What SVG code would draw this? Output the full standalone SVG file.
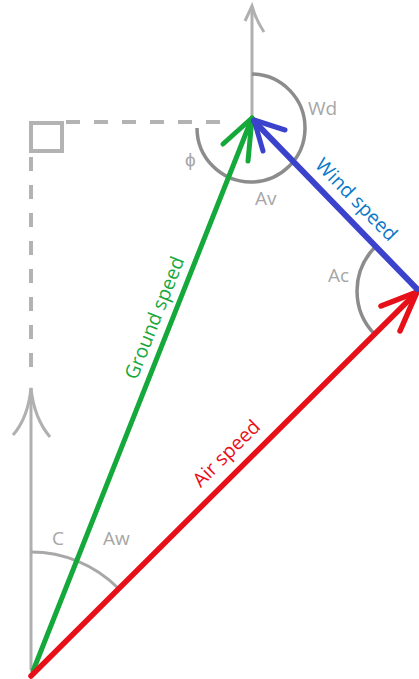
<svg xmlns="http://www.w3.org/2000/svg" width="419" height="679" viewBox="0 0 419 679">
<style>
.lbl{font-family:"Open Sans","Liberation Sans",sans-serif;font-size:19px;fill:#a6a6a6}
.vec{font-family:"Open Sans","Liberation Sans",sans-serif;font-size:19.5px;text-anchor:middle}
.ref{fill:none;stroke:#b0b0b0;stroke-width:3}
.arc{fill:none;stroke:#8c8c8c;stroke-width:3.5}
.dash{fill:none;stroke:#b3b3b3;stroke-width:4;stroke-dasharray:14 14}
</style>
<rect width="419" height="679" fill="#ffffff"/>
<g id="reference">
  <line class="ref" x1="252" y1="8" x2="252" y2="117"/>
  <path class="ref" d="M245,21 L252,6 Q256,20 264,32"/>
  <line class="ref" x1="31" y1="388" x2="31" y2="670"/>
  <path class="ref" d="M13,435 Q28,418 31,388 Q34,418 50,437"/>
  <rect x="31" y="123" width="31" height="28" fill="none" stroke="#b3b3b3" stroke-width="4"/>
  <line class="dash" x1="66" y1="122" x2="222" y2="122"/>
  <line class="dash" x1="31" y1="157" x2="31" y2="375"/>
</g>
<g id="angles">
  <path class="arc" d="M252,74 A54,54 0 1 1 197,128"/>
  <path class="arc" d="M375.5,246.8 A62,62 0 0 0 375,334.6"/>
  <path fill="none" stroke="#a8a8a8" stroke-width="3" d="M31,552 A123,123 0 0 1 118,588"/>
  <text class="lbl" x="308" y="115">Wd</text>
  <text class="lbl" x="185" y="166">ϕ</text>
  <text class="lbl" x="255" y="205">Av</text>
  <text class="lbl" x="328" y="282">Ac</text>
  <text class="lbl" x="52" y="545">C</text>
  <text class="lbl" x="103" y="545">Aw</text>
</g>
<g id="connectors" fill="none" stroke-linejoin="round" stroke-linecap="round">
  <g id="ground-speed">
    <line x1="33" y1="671" x2="252" y2="118" stroke="#15a83a" stroke-width="5"/>
    <path d="M223,144 L252,118 L248,161" stroke="#15a83a" stroke-width="5"/>
  </g>
  <g id="air-speed">
    <line x1="31" y1="676" x2="417" y2="292" stroke="#e81018" stroke-width="5.5"/>
    <path d="M381,306 L417,292 L400,331" stroke="#e81018" stroke-width="5.5"/>
  </g>
  <g id="wind-speed">
    <line x1="417" y1="289" x2="254" y2="121" stroke="#3b43cc" stroke-width="6"/>
    <path d="M285,130 L254,120 L263,151" stroke="#3b43cc" stroke-width="5"/>
  </g>
</g>
<g id="labels">
  <text class="vec" fill="#15a83a" transform="translate(170,324) rotate(-68.4)" y="-10">Ground speed</text>
  <text class="vec" fill="#0a78c8" transform="translate(343,212.6) rotate(45.5)" y="-12">Wind speed</text>
  <text class="vec" fill="#e81018" transform="translate(241,468) rotate(-44.8)" y="-14">Air speed</text>
</g>
</svg>
